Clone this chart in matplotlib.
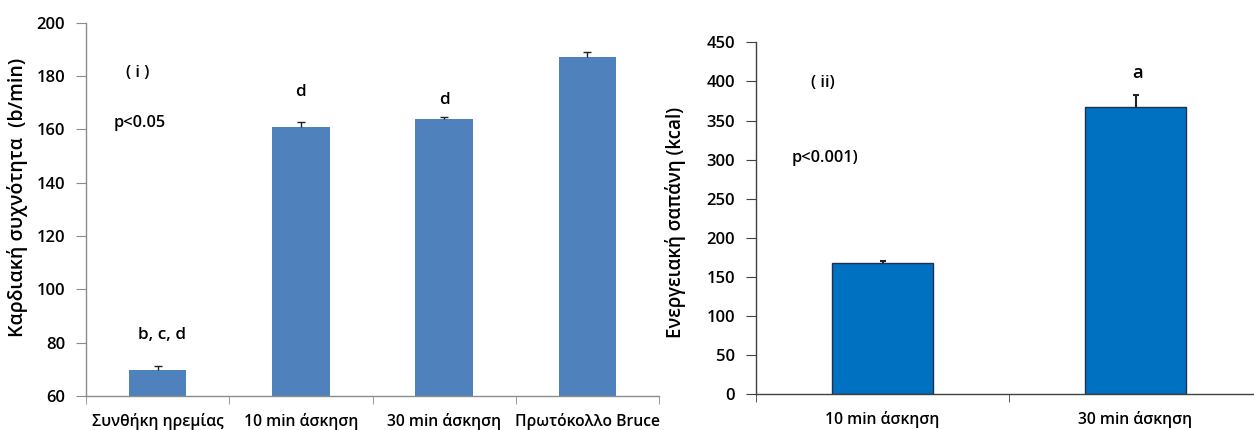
import matplotlib
matplotlib.use("Agg")
import matplotlib.pyplot as plt
import numpy as np

plt.rcParams['font.family'] = ['Open Sans', 'DejaVu Sans']

# Panel (i): heart rate
hr_categories = ["Συνθήκη ηρεμίας", "10 min άσκηση", "30 min άσκηση", "Πρωτόκολλο Bruce"]
hr_values = [69.7, 161.0, 163.9, 187.2]
hr_errors = [1.7, 1.9, 0.9, 1.8]
hr_letters = ["b, c, d", "d", "d", ""]
hr_yticks = [60, 80, 100, 120, 140, 160, 180, 200]

# Panel (ii): energy expenditure
ee_categories = ["10 min άσκηση", "30 min άσκηση"]
ee_values = [167.5, 367.3]
ee_errors = [2.9, 15.7]
ee_letters = ["", "a"]
ee_yticks = [0, 50, 100, 150, 200, 250, 300, 350, 400, 450]

W, H = 1254, 430
fig = plt.figure(figsize=(W / 100, H / 100), dpi=100)

FS = 11.3
WT = 'semibold'


def upper_errorbars(ax, x, vals, errs, capsize, color, lw):
    eb = ax.errorbar(x, vals, yerr=[np.zeros(len(vals)), errs], fmt='none',
                     ecolor=color, elinewidth=lw, capsize=capsize, capthick=lw, zorder=3)
    # keep only the upper caps
    for cap in eb[1]:
        if np.allclose(cap.get_ydata(), vals):
            cap.set_visible(False)


def style_axes(ax, spine_color, n):
    for s in ('top', 'right'):
        ax.spines[s].set_visible(False)
    for s in ('left', 'bottom'):
        ax.spines[s].set_color(spine_color)
        ax.spines[s].set_linewidth(1.0)
    ax.set_xlim(-0.5, n - 0.5)
    ax.set_xticks(np.arange(n))
    ax.set_xticks(np.arange(n + 1) - 0.5, minor=True)
    ax.tick_params(axis='x', which='major', length=0, pad=12, labelsize=FS)
    ax.tick_params(axis='x', which='minor', length=6, color=spine_color, direction='out')
    ax.tick_params(axis='y', length=7, color=spine_color, direction='out', pad=8, labelsize=FS + 0.7)
    for lab in ax.get_yticklabels() + ax.get_xticklabels():
        lab.set_fontweight(WT)


# ---- panel (i)
ax1 = fig.add_axes([86 / W, 1 - 396 / H, 573 / W, 373.3 / H])
x1 = np.arange(len(hr_values))
ax1.bar(x1, hr_values, width=0.4, color='#4F81BD', zorder=2)
ax1.set_ylim(60, 200)
ax1.set_yticks(hr_yticks)
ax1.set_xticklabels(hr_categories)
style_axes(ax1, '#8C8C8C', len(hr_values))
upper_errorbars(ax1, x1, hr_values, hr_errors, 3.0, '#222222', 1.0)

ax1.text(-0.137, 181.1, "( i )", ha='center', va='center', fontsize=FS + 0.5, fontweight=WT)
ax1.text(-0.123, 162.4, "p<0.05", ha='center', va='center', fontsize=FS + 0.5, fontweight=WT)
ax1.text(0.03, 82.9, hr_letters[0], ha='center', va='center', fontsize=FS + 1, fontweight=WT)
ax1.text(1.0, 174.0, hr_letters[1], ha='center', va='center', fontsize=FS + 1, fontweight=WT)
ax1.text(2.0, 171.0, hr_letters[2], ha='center', va='center', fontsize=FS + 1, fontweight=WT)

fig.text(18 / W, 1 - 197 / H, "Καρδιακή συχνότητα  (b/min)", rotation=90,
         ha='center', va='center', fontsize=14, fontweight=WT)

# ---- panel (ii)
ax2 = fig.add_axes([756 / W, 1 - 394.3 / H, 506 / W, 352 / H])
x2 = np.arange(len(ee_values))
ax2.bar(x2, ee_values, width=0.4, color='#0070C0', edgecolor='#1F3050', linewidth=1.0, zorder=2)
ax2.set_ylim(0, 450)
ax2.set_yticks(ee_yticks)
ax2.set_xticklabels(ee_categories)
style_axes(ax2, '#404040', len(ee_values))
upper_errorbars(ax2, x2, ee_values, ee_errors, 2.2, '#222222', 1.5)

ax2.text(-0.236, 398, "( ii)", ha='center', va='center', fontsize=FS + 0.5, fontweight=WT)
ax2.text(-0.228, 302, "p<0.001)", ha='center', va='center', fontsize=FS + 0.5, fontweight=WT)
ax2.text(1.008, 410.8, ee_letters[1], ha='center', va='center', fontsize=FS + 2, fontweight=WT)

fig.text(675 / W, 1 - 222 / H, "Ενεργειακή σαπάνη (kcal)", rotation=90,
         ha='center', va='center', fontsize=13.5, fontweight=WT)

fig.savefig("out.png", dpi=100)
